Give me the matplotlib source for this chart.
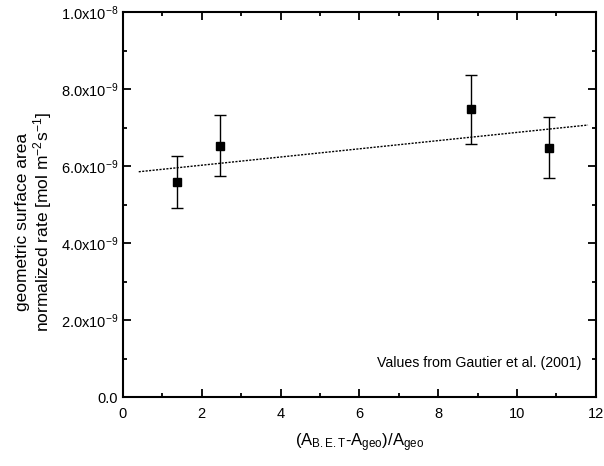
import matplotlib
matplotlib.use("Agg")
import matplotlib.pyplot as plt
from matplotlib.ticker import MultipleLocator, FuncFormatter

plt.rcParams['font.family'] = ['Liberation Sans', 'DejaVu Sans']
plt.rcParams['mathtext.fontset'] = 'custom'
plt.rcParams['mathtext.rm'] = 'Liberation Sans'
plt.rcParams['mathtext.it'] = 'Liberation Sans'
plt.rcParams['mathtext.default'] = 'regular'

# ============================
# DATA
# ============================
area_ratio = [1.37, 2.46, 8.82, 10.81]
rate = [5.58e-9, 6.53e-9, 7.47e-9, 6.48e-9]
rate_err = [0.67e-9, 0.80e-9, 0.90e-9, 0.79e-9]

fit_x = [0.4, 11.8]
fit_slope = 0.1065e-9
fit_intercept = 5.81e-9
fit_y = [fit_intercept + fit_slope * x for x in fit_x]

# ============================
# PLOT
# ============================
fig = plt.figure(figsize=(6.04, 4.66), dpi=100)
ax = fig.add_axes([0.2036, 0.148, 0.783, 0.826])

ax.errorbar(area_ratio, rate, yerr=rate_err, fmt='s', color='black',
            markersize=6, elinewidth=1, capsize=4, capthick=1)
ax.plot(fit_x, fit_y, linestyle=(0, (1.5, 1)), color='black', linewidth=1)

ax.set_xlim(0, 12)
ax.set_ylim(0, 1e-8)
ax.xaxis.set_major_locator(MultipleLocator(2))
ax.xaxis.set_minor_locator(MultipleLocator(1))
ax.yaxis.set_major_locator(MultipleLocator(2e-9))
ax.yaxis.set_minor_locator(MultipleLocator(1e-9))

def sci(v, pos):
    if v == 0:
        return "0.0"
    exp = int(f"{v:e}".split("e")[1])
    mant = v / 10 ** exp
    return f"{mant:.1f}x10$^{{{exp}}}$"

ax.yaxis.set_major_formatter(FuncFormatter(sci))

ax.tick_params(which='both', direction='in', top=True, right=True,
               labelsize=10.5, width=1.3)
ax.tick_params(which='major', length=6)
ax.tick_params(which='minor', length=3)
ax.tick_params(axis='x', pad=7)
for s in ax.spines.values():
    s.set_linewidth(1.5)

ax.set_xlabel("(A$_{B.E.T}$-A$_{geo}$)/A$_{geo}$", fontsize=12, labelpad=8)
ax.set_ylabel("geometric surface area\nnormalized rate [mol m$^{-2}$s$^{-1}$]",
              fontsize=12.5, linespacing=1.1)
ax.yaxis.set_label_coords(-0.145, 0.455)

ax.text(0.970, 0.088, "Values from Gautier et al. (2001)", transform=ax.transAxes,
        ha='right', va='center', fontsize=10.2)

plt.savefig("out.png", dpi=100)
